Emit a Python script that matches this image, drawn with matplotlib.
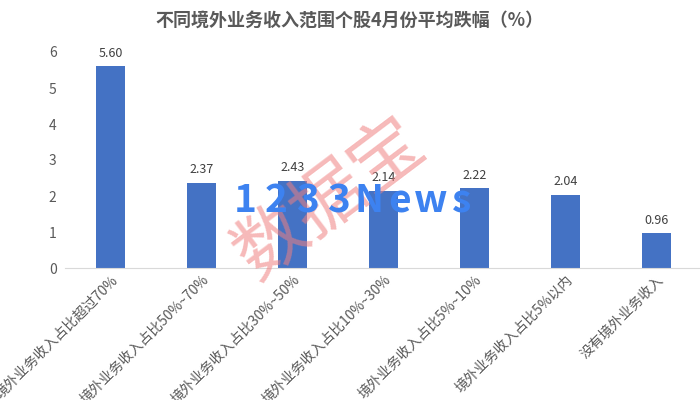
import matplotlib
matplotlib.use("Agg")
import matplotlib.pyplot as plt
import matplotlib.transforms as mtransforms

plt.rcParams['font.family'] = ['Noto Sans CJK SC', 'DejaVu Sans']

# 数据
categories = ["境外业务收入占比超过70%", "境外业务收入占比50%~70%", "境外业务收入占比30%~50%",
              "境外业务收入占比10%~30%", "境外业务收入占比5%~10%", "境外业务收入占比5%以内",
              "没有境外业务收入"]
values = [5.60, 2.37, 2.43, 2.14, 2.22, 2.04, 0.96]
yticks = [0, 1, 2, 3, 4, 5, 6]

fig = plt.figure(figsize=(7, 4), dpi=100)
ax = fig.add_axes([65/700, 132/400, 637/700, 216/400])

x = range(len(categories))
bars = ax.bar(x, values, width=0.31, color='#4472C4', zorder=2)

for b, v in zip(bars, values):
    ax.text(b.get_x() + b.get_width()/2, v + 0.18, f"{v:.2f}", ha='center', va='bottom',
            fontsize=9, color='#404040')

ax.set_xlim(-0.5, len(categories) - 0.5)
ax.set_ylim(0, 6)
ax.set_yticks(yticks)
ax.set_xticks(list(x))
ax.set_xticklabels(categories, rotation=45, ha='right', rotation_mode='anchor',
                   fontsize=10, color='#595959')
off = mtransforms.ScaledTranslation(18/100, -9/100, fig.dpi_scale_trans)
for lab in ax.get_xticklabels():
    lab.set_transform(lab.get_transform() + off)

ax.tick_params(axis='y', length=0, labelsize=10, labelcolor='#595959', pad=6)
ax.tick_params(axis='x', length=0)
for s in ['top', 'right', 'left']:
    ax.spines[s].set_visible(False)
ax.spines['bottom'].set_color('#d9d9d9')

fig.text(0.5, 0.95, "不同境外业务收入范围个股4月份平均跌幅（%）", ha='center', va='center',
         fontsize=13, fontweight='bold', color='#595959')

# 水印
fig.text(330/700, 1 - 200/400, "数据宝", rotation=37, ha='center', va='center',
         fontsize=52, color='#f08080', alpha=0.55, zorder=5)
wm = "1233News"
for i, ch in enumerate(wm):
    fig.text((245 + i*31)/700, 1 - 201/400, ch, ha='center', va='center',
             fontsize=28, fontweight='bold', color='#3d82f0', zorder=6)

fig.savefig("out.png", dpi=100)
